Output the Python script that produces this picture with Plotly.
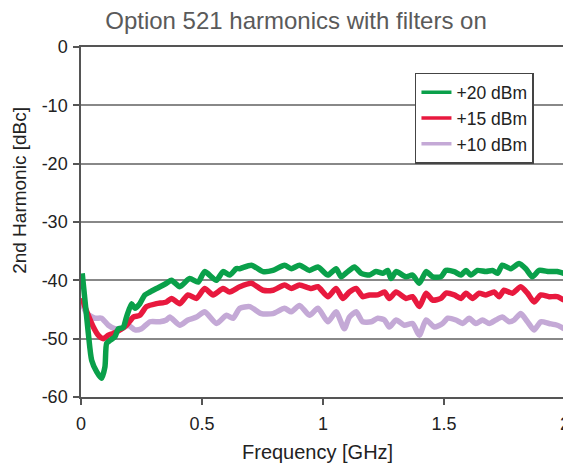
import plotly.graph_objects as go

green_f = [0.005, 0.03, 0.044, 0.065, 0.085, 0.099, 0.106, 0.12, 0.14, 0.154, 0.174, 0.188, 0.209, 0.223, 0.243, 0.264, 0.285, 0.312, 0.353, 0.374, 0.408, 0.449, 0.484, 0.511, 0.559, 0.587, 0.614, 0.642, 0.656, 0.704, 0.752, 0.793, 0.841, 0.869, 0.903, 0.944, 0.979, 1.02, 1.054, 1.075, 1.102, 1.13, 1.158, 1.192, 1.219, 1.247, 1.267, 1.281, 1.302, 1.343, 1.37, 1.398, 1.426, 1.453, 1.487, 1.508, 1.542, 1.57, 1.591, 1.611, 1.638, 1.673, 1.7, 1.721, 1.741, 1.776, 1.81, 1.838, 1.865, 1.893, 1.934, 1.968, 1.996]
green_v = [-38.8, -49, -53.7, -55.7, -56.8, -54.8, -50.8, -50.3, -49.7, -48.3, -48.1, -46.3, -44, -44.8, -44, -42.5, -42, -41.4, -40.5, -40, -41.1, -39.7, -40.3, -38.5, -40, -38.5, -39.1, -38, -38, -37.4, -38.5, -38.3, -37.4, -38, -37.4, -38.3, -37.7, -39.1, -38, -39.4, -38.5, -37.7, -38.8, -39.1, -38.5, -38.8, -38.3, -39.7, -38.5, -39.4, -39.1, -40.5, -38.5, -39.4, -39.4, -38.3, -38.5, -39.1, -38.3, -39.1, -38.3, -38.5, -38.3, -38.8, -37.4, -38, -37.1, -38, -39.4, -38.3, -38.5, -38.5, -38.8]

red_f = [0.005, 0.016, 0.03, 0.051, 0.071, 0.092, 0.113, 0.133, 0.161, 0.188, 0.216, 0.243, 0.271, 0.312, 0.353, 0.374, 0.408, 0.442, 0.477, 0.511, 0.546, 0.587, 0.614, 0.656, 0.704, 0.752, 0.793, 0.841, 0.869, 0.903, 0.951, 0.979, 1.02, 1.054, 1.082, 1.109, 1.137, 1.164, 1.192, 1.226, 1.254, 1.274, 1.302, 1.343, 1.37, 1.398, 1.426, 1.453, 1.487, 1.508, 1.542, 1.57, 1.591, 1.618, 1.645, 1.673, 1.707, 1.728, 1.748, 1.783, 1.817, 1.845, 1.872, 1.9, 1.934, 1.968, 1.996]
red_v = [-43, -44.5, -46, -48, -49.4, -50, -49.4, -49.1, -48.5, -47.7, -46.3, -46, -44.5, -44, -43.7, -43.1, -44, -42.5, -43.1, -41.4, -42.5, -41.4, -42, -41.1, -40.5, -41.7, -41.7, -40.8, -41.4, -40.8, -41.4, -41.1, -42.8, -41.4, -43.1, -42, -41.4, -42.8, -42.5, -42.5, -42, -43.1, -42, -43.1, -42.8, -44.5, -42.2, -43.4, -43.1, -42.2, -42.5, -43.1, -42.2, -43.1, -42.2, -42.5, -42, -42.8, -41.7, -42.2, -41.1, -42.2, -43.7, -42.5, -42.8, -42.8, -43.4]

lav_f = [0.005, 0.024, 0.058, 0.085, 0.113, 0.14, 0.168, 0.195, 0.223, 0.25, 0.285, 0.326, 0.353, 0.367, 0.408, 0.442, 0.477, 0.511, 0.56, 0.601, 0.628, 0.656, 0.697, 0.745, 0.793, 0.841, 0.869, 0.903, 0.944, 0.979, 1.02, 1.054, 1.088, 1.109, 1.137, 1.164, 1.199, 1.226, 1.254, 1.274, 1.302, 1.336, 1.37, 1.398, 1.426, 1.46, 1.494, 1.515, 1.549, 1.577, 1.604, 1.632, 1.659, 1.687, 1.714, 1.741, 1.769, 1.79, 1.817, 1.845, 1.872, 1.9, 1.934, 1.968, 1.996]
lav_v = [-44, -45.7, -46.5, -46.5, -47.7, -48.3, -48.3, -47.7, -48.5, -48.3, -47.1, -47.1, -46.8, -46.3, -47.7, -46.8, -46.3, -45.4, -47.4, -46, -46.5, -44.8, -44.5, -45.7, -45.7, -44.8, -45.4, -44.3, -46, -44.8, -47.1, -45.4, -48.3, -46.3, -45.4, -47.1, -47.1, -46.5, -46.8, -48, -46.8, -47.7, -47.4, -49.4, -46.8, -48, -47.4, -46.5, -46.8, -47.4, -46.5, -47.4, -46.8, -47.4, -46.8, -46.3, -47.1, -46.8, -45.7, -47.1, -48.5, -47.1, -47.4, -47.7, -48.3]

series_names = ["+20 dBm", "+15 dBm", "+10 dBm"]
series_colors = ["#0aa04a", "#e8193e", "#c4a9d6"]

x_ticks = [0, 0.5, 1, 1.5, 2]
x_tick_labels = ["0", "0.5", "1", "1.5", "2"]
y_ticks = [0, -10, -20, -30, -40, -50, -60]
y_tick_labels = ["0", "-10", "-20", "-30", "-40", "-50", "-60"]

fig = go.Figure()
data = [(lav_f, lav_v, 2), (red_f, red_v, 1), (green_f, green_v, 0)]
for f, v, i in data:
    fig.add_trace(go.Scatter(
        x=f, y=v, mode="lines", name=series_names[i], showlegend=False,
        line=dict(color=series_colors[i], width=5.5, shape="spline", smoothing=0.6),
    ))
# legend entries (thinner sample lines, as in the reference legend)
for i in range(3):
    fig.add_trace(go.Scatter(
        x=[None], y=[None], mode="lines", name=series_names[i],
        line=dict(color=series_colors[i], width=3.5), legendrank=i + 1,
    ))

# the page has an 8 px body margin, so the figure is laid out 8 px smaller
font_family = "Liberation Sans, Arial, sans-serif"
fig.update_layout(
    width=563, height=459,
    margin=dict(l=73, r=6, t=39, b=70, autoexpand=False),
    paper_bgcolor="white", plot_bgcolor="white",
    font=dict(family=font_family, color="#222222", size=18),
    title=dict(text="Option 521 harmonics with filters on", x=288 / 563, xanchor="center",
               xref="container", y=1 - 13 / 459, yanchor="middle",
               font=dict(size=24, color="#5a5a5a")),
    showlegend=True,
    legend=dict(x=0.690, y=0.926, xanchor="left", yanchor="top",
                bgcolor="white", bordercolor="#444444", borderwidth=1.5,
                font=dict(size=17.5, color="#222222"), tracegroupgap=0,
                itemwidth=30),
    annotations=[
        dict(text="Frequency [GHz]", xref="paper", yref="paper", x=0.4886, y=-0.157,
             xanchor="center", yanchor="middle", showarrow=False,
             font=dict(size=20, color="#222222")),
        dict(text="2nd Harmonic [dBc]", xref="paper", yref="paper", x=-0.126, y=0.589,
             xanchor="center", yanchor="middle", showarrow=False, textangle=-90,
             font=dict(size=19, color="#222222")),
    ],
)
fig.update_xaxes(
    range=[0, 2], tickvals=x_ticks, ticktext=x_tick_labels, automargin=False,
    showline=True, linecolor="#555555", linewidth=1.5, mirror=True,
    ticks="outside", ticklen=6, tickcolor="#555555", tickwidth=1.5,
    ticklabelstandoff=4,
    showgrid=False, zeroline=False,
    tickfont=dict(size=18, color="#222222"),
)
fig.update_yaxes(
    range=[-60, 0], tickvals=y_ticks, ticktext=y_tick_labels, automargin=False,
    showline=True, linecolor="#555555", linewidth=1.5, mirror=True,
    ticks="outside", ticklen=6, tickcolor="#555555", tickwidth=1.5,
    ticklabelstandoff=2,
    showgrid=True, gridcolor="#888888", gridwidth=1.5, zeroline=False,
    tickfont=dict(size=18, color="#222222"),
)

fig.write_html("out.html")
